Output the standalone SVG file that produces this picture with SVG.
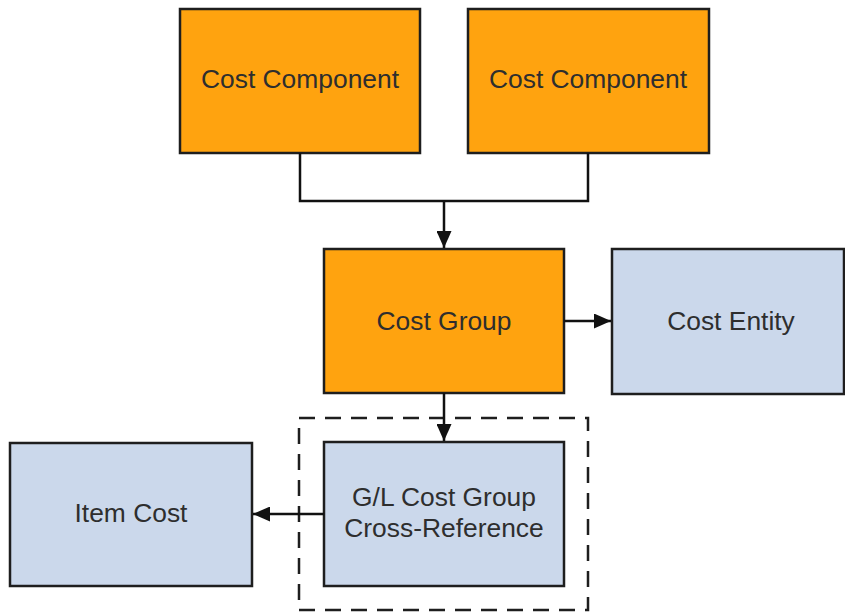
<svg xmlns="http://www.w3.org/2000/svg" width="845" height="612" viewBox="0 0 845 612">
<style>
.box{stroke:#1e1e1e;stroke-width:2.5}
.org{fill:#FFA30F}
.blu{fill:#CBD8EB}
.t{font-family:"Liberation Sans",Arial,sans-serif;font-size:26.4px;fill:#2e2e2e;text-anchor:middle;dominant-baseline:central}
.c{fill:none;stroke:#111;stroke-width:2.5}
</style>
<defs>
<marker id="b" viewBox="0 0 17 15" refX="17" refY="7.5" markerWidth="17" markerHeight="15" markerUnits="userSpaceOnUse" orient="auto">
<path d="M0,0 L17,7.5 L0,15 z" fill="#111"/>
</marker>
</defs>
<g id="group-frame">
<rect x="299" y="418" width="289" height="192" fill="none" stroke="#1e1e1e" stroke-width="2.5" stroke-dasharray="16,10"/>
</g>
<g id="cost-component-1">
<rect class="box org" x="180" y="9" width="240" height="144"/>
<text class="t" x="300" y="79">Cost Component</text>
</g>
<g id="cost-component-2">
<rect class="box org" x="468" y="9" width="241" height="144"/>
<text class="t" x="588" y="79">Cost Component</text>
</g>
<g id="cost-group">
<rect class="box org" x="324" y="249" width="240" height="144"/>
<text class="t" x="444" y="321">Cost Group</text>
</g>
<g id="cost-entity">
<rect class="box blu" x="612" y="249" width="232" height="145"/>
<text class="t" x="731" y="321">Cost Entity</text>
</g>
<g id="gl-xref">
<rect class="box blu" x="324" y="442" width="240" height="144"/>
<text class="t" x="444" y="497">G/L Cost Group</text>
<text class="t" x="444" y="528">Cross-Reference</text>
</g>
<g id="item-cost">
<rect class="box blu" x="10" y="443" width="242" height="143"/>
<text class="t" x="131" y="513">Item Cost</text>
</g>
<g id="connectors">
<path class="c" d="M300,153 V201 H588 V153"/>
<path class="c" d="M444,201 V248" marker-end="url(#b)"/>
<path class="c" d="M564,321 H611" marker-end="url(#b)"/>
<path class="c" d="M444,393 V441" marker-end="url(#b)"/>
<path class="c" d="M324,514 H253" marker-end="url(#b)"/>
</g>
</svg>
